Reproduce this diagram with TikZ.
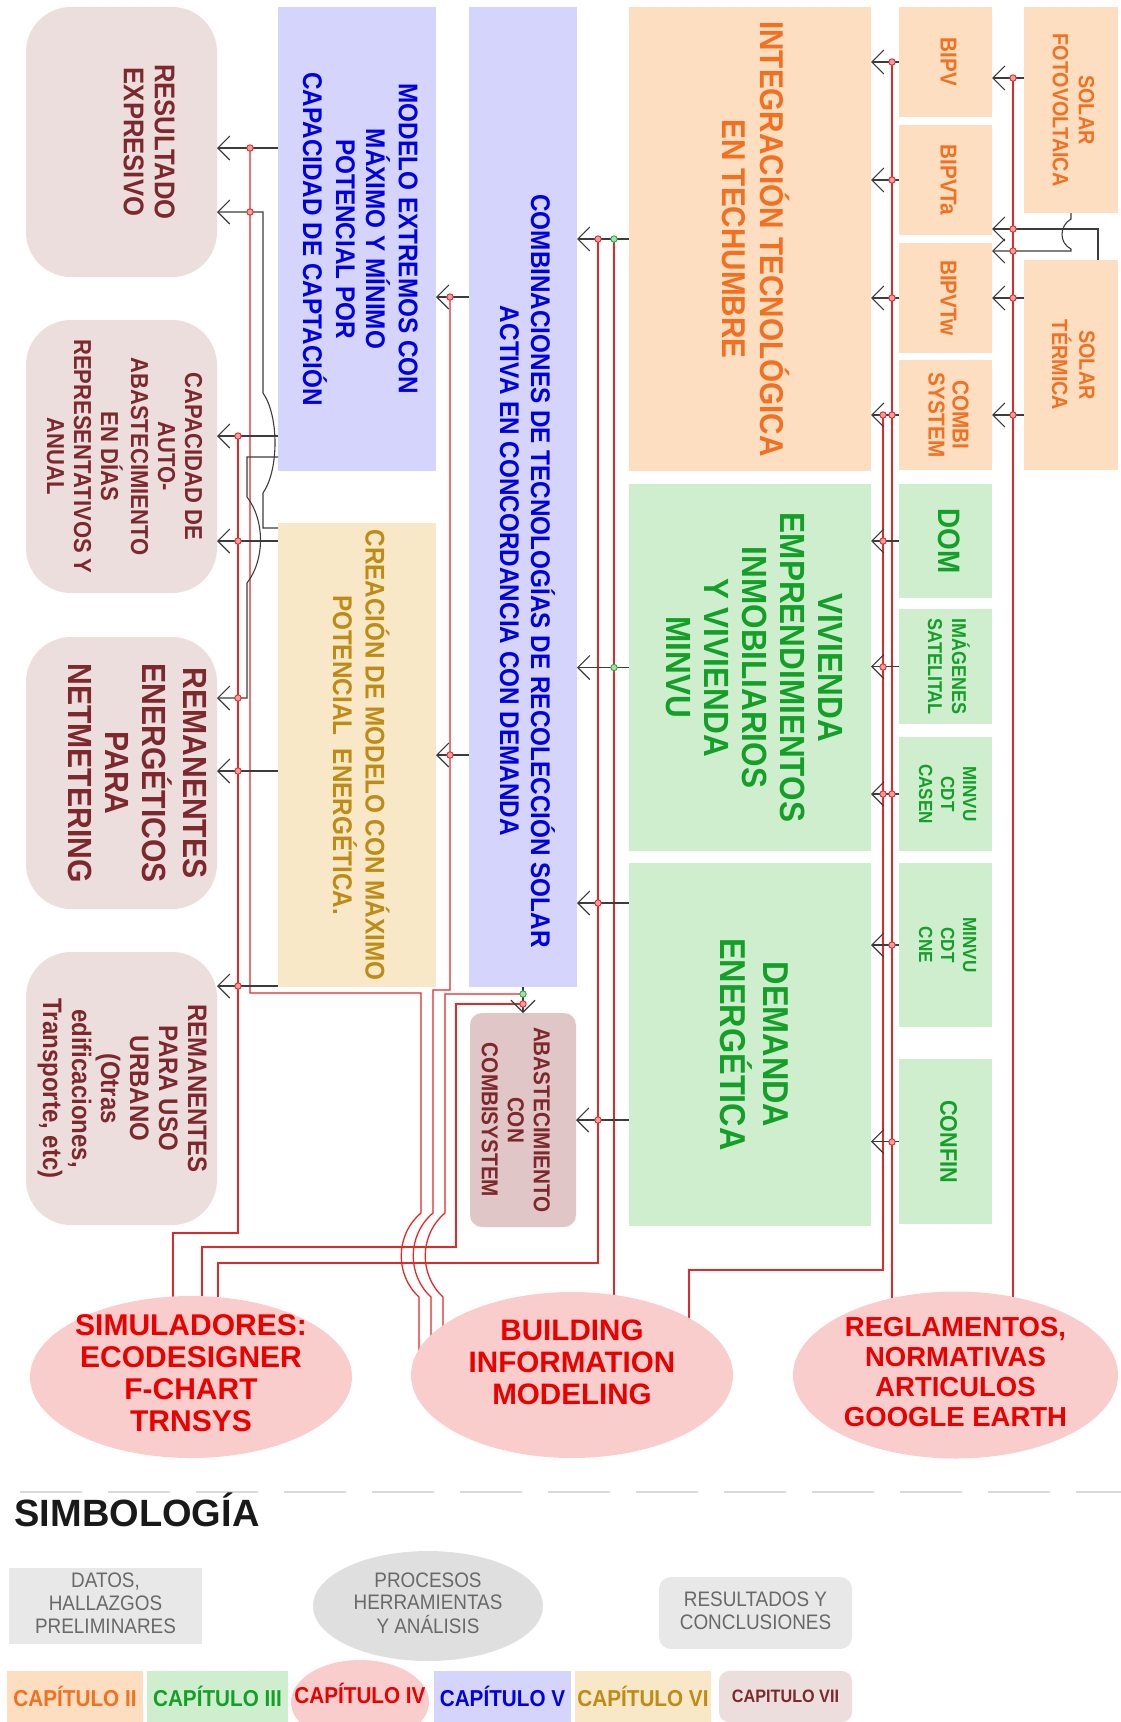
\documentclass[tikz,border=0pt]{standalone}
\usepackage{graphicx}
\usepackage{fontspec}
\setmainfont{Liberation Sans}
\newfontfamily\condfont[FakeStretch=0.9]{Liberation Sans}
\usetikzlibrary{positioning,shapes.geometric,arrows.meta,backgrounds}

\definecolor{orfill}{RGB}{253,222,192}
\definecolor{ortext}{RGB}{243,112,33}
\definecolor{grfill}{RGB}{206,238,206}
\definecolor{grtext}{RGB}{20,160,40}
\definecolor{blfill}{RGB}{212,212,252}
\definecolor{bltext}{RGB}{0,0,230}
\definecolor{befill}{RGB}{249,232,200}
\definecolor{betext}{RGB}{190,140,20}
\definecolor{rofill}{RGB}{237,222,222}
\definecolor{rodark}{RGB}{224,198,198}
\definecolor{mrtext}{RGB}{125,40,45}
\definecolor{elfill}{RGB}{250,205,205}
\definecolor{eltext}{RGB}{235,0,0}
\definecolor{lgfill}{RGB}{232,232,232}
\definecolor{lgtext}{RGB}{105,105,105}
\definecolor{wire}{RGB}{228,40,40}
\definecolor{arrowgray}{RGB}{60,60,60}
\definecolor{dotgreen}{RGB}{40,170,60}

\newcommand{\setfs}[2]{\fontsize{#1}{#2}\selectfont}
\newcommand{\vlab}[1]{\rotatebox{-90}{\begin{tabular}{@{}c@{}}#1\end{tabular}}}
\newcommand{\hlab}[1]{\begin{tabular}{@{}c@{}}#1\end{tabular}}

\tikzset{wh/.style 2 args={minimum width=#1pt, minimum height=#2pt}}

\begin{document}
\begin{tikzpicture}[x=1pt, y=-1pt,
    block/.style={rectangle, inner sep=0pt, outer sep=0pt},
    orangebox/.style={block, fill=orfill, text=ortext},
    greenbox/.style={block, fill=grfill, text=grtext},
    bluebox/.style={block, fill=blfill, text=bltext},
    beigebox/.style={block, fill=befill, text=betext},
    resultbox/.style={block, fill=rofill, text=mrtext, rounded corners=45pt},
    toolell/.style={ellipse, inner sep=0pt, outer sep=0pt, fill=elfill},
    toollabel/.style={text=eltext, inner sep=0pt},
    legendbox/.style={block, fill=lgfill, text=lgtext, font=\condfont\setfs{21}{23}},
    chapter/.style={block, font=\condfont\bfseries\setfs{23}{26}},
    arrow/.style={-{Straight Barb[length=12pt,width=24pt]}, draw=arrowgray, line width=1.1pt},
    wireline/.style={draw=wire, line width=1.3pt},
    reddot/.style={draw=wire, fill=wire!45, line width=0.9pt},
    greendot/.style={draw=dotgreen, fill=dotgreen!40, line width=0.9pt}
]
\useasboundingbox (0,0) rectangle (1121,1722);

    % Capitulo II
    \node[orangebox, wh={242}{464}, font=\condfont\bfseries\setfs{33}{38}] (integ) at (750,239) {\vlab{INTEGRACIÓN TECNOLÓGICA\\EN TECHUMBRE}};
    \node[orangebox, wh={93}{110}, font=\condfont\bfseries\setfs{23}{25}] (bipv) at (945.5,62) {\vlab{BIPV}};
    \node[orangebox, wh={93}{110}, font=\condfont\bfseries\setfs{23}{25}, below=8pt of bipv] (bipvta) {\vlab{BIPVTa}};
    \node[orangebox, wh={93}{110}, font=\condfont\bfseries\setfs{23}{25}, below=8pt of bipvta] (bipvtw) {\vlab{BIPVTw}};
    \node[orangebox, wh={93}{110}, font=\condfont\bfseries\setfs{23}{24}, below=7pt of bipvtw] (combi) {\vlab{COMBI\\SYSTEM}};
    \node[orangebox, wh={94}{206}, font=\condfont\bfseries\setfs{22}{26}] (solarfv) at (1071,110) {\vlab{SOLAR\\FOTOVOLTAICA}};
    \node[orangebox, wh={94}{210}, font=\condfont\bfseries\setfs{22}{26}] (solarter) at (1071,365) {\vlab{SOLAR\\TÉRMICA}};

    % Capitulo III
    \node[greenbox, wh={242}{367}, font=\condfont\bfseries\setfs{35}{38}] (vivienda) at (750,667.5) {\vlab{VIVIENDA\\EMPRENDIMIENTOS\\INMOBILIARIOS\\Y VIVIENDA\\MINVU}};
    \node[greenbox, wh={242}{363}, font=\condfont\bfseries\setfs{36}{40}, below=12pt of vivienda] (demanda) {\vlab{DEMANDA\\ENERGÉTICA}};
    \node[greenbox, wh={93}{114}, font=\condfont\bfseries\setfs{31}{34}] (dom) at (945.5,541) {\vlab{DOM}};
    \node[greenbox, wh={93}{115}, font=\condfont\bfseries\setfs{20}{24}, below=11pt of dom] (imagenes) {\vlab{IMÁGENES\\SATELITAL}};
    \node[greenbox, wh={93}{114}, font=\condfont\bfseries\setfs{19}{22}, below=13pt of imagenes] (casen) {\vlab{MINVU\\CDT\\CASEN}};
    \node[greenbox, wh={93}{164}, font=\condfont\bfseries\setfs{19}{22}, below=12pt of casen] (cne) {\vlab{MINVU\\CDT\\CNE}};
    \node[greenbox, wh={93}{165}, font=\condfont\bfseries\setfs{24}{26}, below=32pt of cne] (confin) {\vlab{CONFIN}};

    % Capitulo V y VI
    \node[bluebox, wh={158}{464}, font=\condfont\bfseries\setfs{27}{30}] (modelo) at (357,239) {\vlab{MODELO EXTREMOS CON\\MÁXIMO Y MÍNIMO\\POTENCIAL POR\\CAPACIDAD DE CAPTACIÓN}};
    \node[beigebox, wh={158}{464}, font=\condfont\bfseries\setfs{27}{29}] (creacion) at (357,755) {\vlab{CREACIÓN DE MODELO CON MÁXIMO\\POTENCIAL\ \ ENERGÉTICA.}};
    \node[bluebox, wh={108}{980}] (combin) at (523,497) {};
    \node[text=bltext, font=\condfont\bfseries\setfs{27}{31}] (combinlabel) at ([yshift=-74pt]combin.center) {\vlab{COMBINACIONES DE TECNOLOGÍAS DE RECOLECCIÓN SOLAR\\ACTIVA EN CONCORDANCIA CON DEMANDA}};

    % Capitulo VII
    \node[resultbox, wh={191}{270}] (resultado) at (121.5,142) {};
    \node[text=mrtext, font=\condfont\bfseries\setfs{28.5}{31}] (resultadolabel) at ([xshift=24pt]resultado.center) {\vlab{RESULTADO\\EXPRESIVO}};
    \node[resultbox, wh={191}{273}, font=\condfont\bfseries\setfs{24.5}{27}] (capacidad) at (121.5,456.5) {\vlab{CAPACIDAD DE\\AUTO-\\ABASTECIMIENTO\\EN DÍAS\\REPRESENTATIVOS Y\\ANUAL}};
    \node[resultbox, wh={191}{272}] (netmeter) at (121.5,773) {};
    \node[text=mrtext, font=\condfont\bfseries\setfs{33.5}{37}] (netmeterlabel) at ([xshift=12pt]netmeter.center) {\vlab{REMANENTES\\ENERGÉTICOS\\PARA\\NETMETERING}};
    \node[resultbox, wh={191}{273}, font=\condfont\bfseries\setfs{26.7}{29}] (urbano) at (121.5,1088.5) {\vlab{REMANENTES\\PARA USO\\URBANO\\(Otras\\edificaciones,\\Transporte, etc)}};
    \node[resultbox, fill=rodark, rounded corners=12pt, wh={106}{214}] (abast) at (523,1120) {};
    \node[text=mrtext, font=\condfont\bfseries\setfs{23}{26}] (abastlabel) at ([xshift=-10pt]abast.center) {\vlab{ABASTECIMIENTO\\CON\\COMBISYSTEM}};

    % Capitulo IV
    \node[toolell, wh={322}{162}, label={[toollabel, font=\bfseries\setfs{30}{32}]center:\hlab{SIMULADORES:\\ECODESIGNER\\F-CHART\\TRNSYS}}] (sim) at (191,1377) {};
    \node[toolell, wh={322}{166}, label={[toollabel, font=\bfseries\setfs{29.6}{32}, yshift=9pt]center:\hlab{BUILDING\\INFORMATION\\MODELING}}] (bim) at (572,1375) {};
    \node[toolell, wh={325}{167}, label={[toollabel, font=\bfseries\setfs{27.5}{30}]center:\hlab{REGLAMENTOS,\\NORMATIVAS\\ARTICULOS\\GOOGLE EARTH}}] (reg) at (955.5,1375) {};

    % Arrows
    \draw[arrow] (solarfv.west |- 0,78) -- (bipv.east |- 0,78);
    \draw[arrow] (solarter.north -| 1098,0) -- (1098,229) -- (bipvta.east |- 0,229);
    \draw[arrow] (solarfv.south) -- (1071,219) .. controls (1059,226) and (1059,243) .. (1071,249) -- (1071,251) -- (bipvtw.east |- 0,251);
    \draw[arrow] (solarter.west |- bipvtw.east) -- (bipvtw.east);
    \draw[arrow] (solarter.west |- combi.east) -- (combi.east);
    \draw[arrow] (bipv.west) -- (bipv.west -| integ.east);
    \draw[arrow] (bipvta.west) -- (bipvta.west -| integ.east);
    \draw[arrow] (bipvtw.west) -- (bipvtw.west -| integ.east);
    \draw[arrow] (combi.west) -- (combi.west -| integ.east);
    \draw[arrow] (dom.west) -- (dom.west -| vivienda.east);
    \draw[arrow] (imagenes.west) -- (imagenes.west -| vivienda.east);
    \draw[arrow] (casen.west) -- (casen.west -| vivienda.east);
    \draw[arrow] (cne.west) -- (cne.west -| demanda.east);
    \draw[arrow] (confin.west) -- (confin.west -| demanda.east);
    \draw[arrow] (integ.west) -- (integ.west -| combin.east);
    \draw[arrow] (vivienda.west) -- (vivienda.west -| combin.east);
    \draw[arrow] (demanda.west |- 0,903) -- (combin.east |- 0,903);
    \draw[arrow] (demanda.west |- abast.east) -- (abast.east);
    \draw[arrow] (combin.west |- 0,297) -- (modelo.east |- 0,297);
    \draw[arrow] (combin.west |- creacion.east) -- (creacion.east);
    \draw[arrow] (combin.south) -- (abast.north);
    \draw[arrow] (modelo.west |- 0,148) -- (resultado.east |- 0,148);
    \draw[arrow] (creacion.west |- 0,528) -- (263,528) -- (263,493) .. controls (279,470) and (279,416) .. (263,393) -- (263,212) -- (resultado.east |- 0,212);
    \draw[arrow] (modelo.west |- 0,436) -- (capacidad.east |- 0,436);
    \draw[arrow] (modelo.west |- 0,457) -- (247,457) -- (247,497) .. controls (265,520) and (265,560) .. (247,583) -- (247,698) -- (netmeter.east |- 0,698);
    \draw[arrow] (creacion.west |- 0,541) -- (capacidad.east |- 0,541);
    \draw[arrow] (creacion.west |- 0,771) -- (netmeter.east |- 0,771);
    \draw[arrow] (creacion.west |- 0,986) -- (urbano.east |- 0,986);

    % Links from the tools
    \begin{scope}[on background layer]
    \fill[white] (0,0) rectangle (1121,1722);
    \draw[wireline] (238,436) -- (238,1233) -- (173,1233) -- (173,0 |- sim.center);
    \draw[wireline] (523,1004) -- (456,1004) -- (456,1247) -- (202,1247) -- (202,0 |- sim.center);
    \draw[wireline] (598,239) -- (598,1263) -- (218,1263) -- (218,0 |- sim.center);
    \draw[wireline] (250,148) -- (250,993) -- (421,993) -- (421,1213) .. controls (395,1235) and (395,1275) .. (419,1297) -- (419,0 |- bim.center);
    \draw[wireline] (450,297) -- (450,990) -- (433,990) -- (433,1213) .. controls (407,1235) and (407,1275) .. (431,1297) -- (431,0 |- bim.center);
    \draw[wireline] (523,994) -- (445,994) -- (445,1213) .. controls (419,1235) and (419,1275) .. (443,1297) -- (443,0 |- bim.center);
    \draw[wireline] (614,239) -- (614,0 |- bim.center);
    \draw[wireline] (883,415) -- (883,1270) -- (689,1270) -- (689,0 |- bim.center);
    \draw[wireline] (892,62) -- (892,0 |- reg.center);
    \draw[wireline] (1013,78) -- (1013,0 |- reg.center);
    \end{scope}

    % Junctions
    \foreach \x/\y in {250/148, 250/212, 238/436, 238/541, 238/698, 238/771, 238/986, 450/297, 450/755,
        598/239, 598/903, 598/1120, 523/1004, 883/415, 883/541, 883/667, 883/794,
        892/62, 892/180, 892/298, 892/415, 892/794, 892/945, 892/1142,
        1013/78, 1013/229, 1013/251, 1013/298, 1013/415}
        \filldraw[reddot] (\x,\y) circle[radius=3.2pt];
    \foreach \x/\y in {614/239, 614/667.5, 523/994}
        \filldraw[greendot] (\x,\y) circle[radius=3.2pt];

    % Simbologia
    \draw[gray!30, line width=1.5pt, dash pattern=on 62pt off 26pt] (20,1492) -- (1121,1492);
    \node[anchor=base west, font=\bfseries\setfs{38}{40}, text=black!90] (simbologia) at (11,1526) {SIMBOLOGÍA};
    \node[legendbox, wh={193}{76}] (datos) at (105.5,1606) {\hlab{DATOS,\\HALLAZGOS\\PRELIMINARES}};
    \node[ellipse, inner sep=0pt, fill=lgfill!96!black, text=lgtext, font=\condfont\setfs{21}{22}, wh={230}{110}] (procesos) at (428,1606) {\hlab{PROCESOS\\HERRAMIENTAS\\Y ANÁLISIS}};
    \node[legendbox, rounded corners=12pt, wh={193}{72}] (resultados) at (755.5,1613) {\hlab{RESULTADOS Y\\CONCLUSIONES}};
    \node[chapter, fill=orfill, text=ortext, wh={136}{51}] (cap2) at (75,1696.5) {CAPÍTULO II};
    \node[chapter, fill=grfill, text=grtext, wh={141}{51}] (cap3) at (217.5,1696.5) {CAPÍTULO III};
    \node[ellipse, inner sep=0pt, fill=elfill, wh={138}{84}, label={[text=eltext, inner sep=0pt, font=\condfont\bfseries\setfs{23}{26}, yshift=9pt]center:CAPÍTULO IV}] (cap4) at (360,1702) {};
    \node[chapter, fill=blfill, text=bltext, wh={137}{51}] (cap5) at (502.5,1696.5) {CAPÍTULO V};
    \node[chapter, fill=befill, text=betext, wh={136}{51}] (cap6) at (643,1696.5) {CAPÍTULO VI};
    \node[chapter, fill=rofill, text=mrtext, rounded corners=10pt, wh={133}{51}, font=\condfont\bfseries\setfs{18}{20}] (cap7) at (785.5,1696.5) {CAPITULO VII};
\end{tikzpicture}
\end{document}
